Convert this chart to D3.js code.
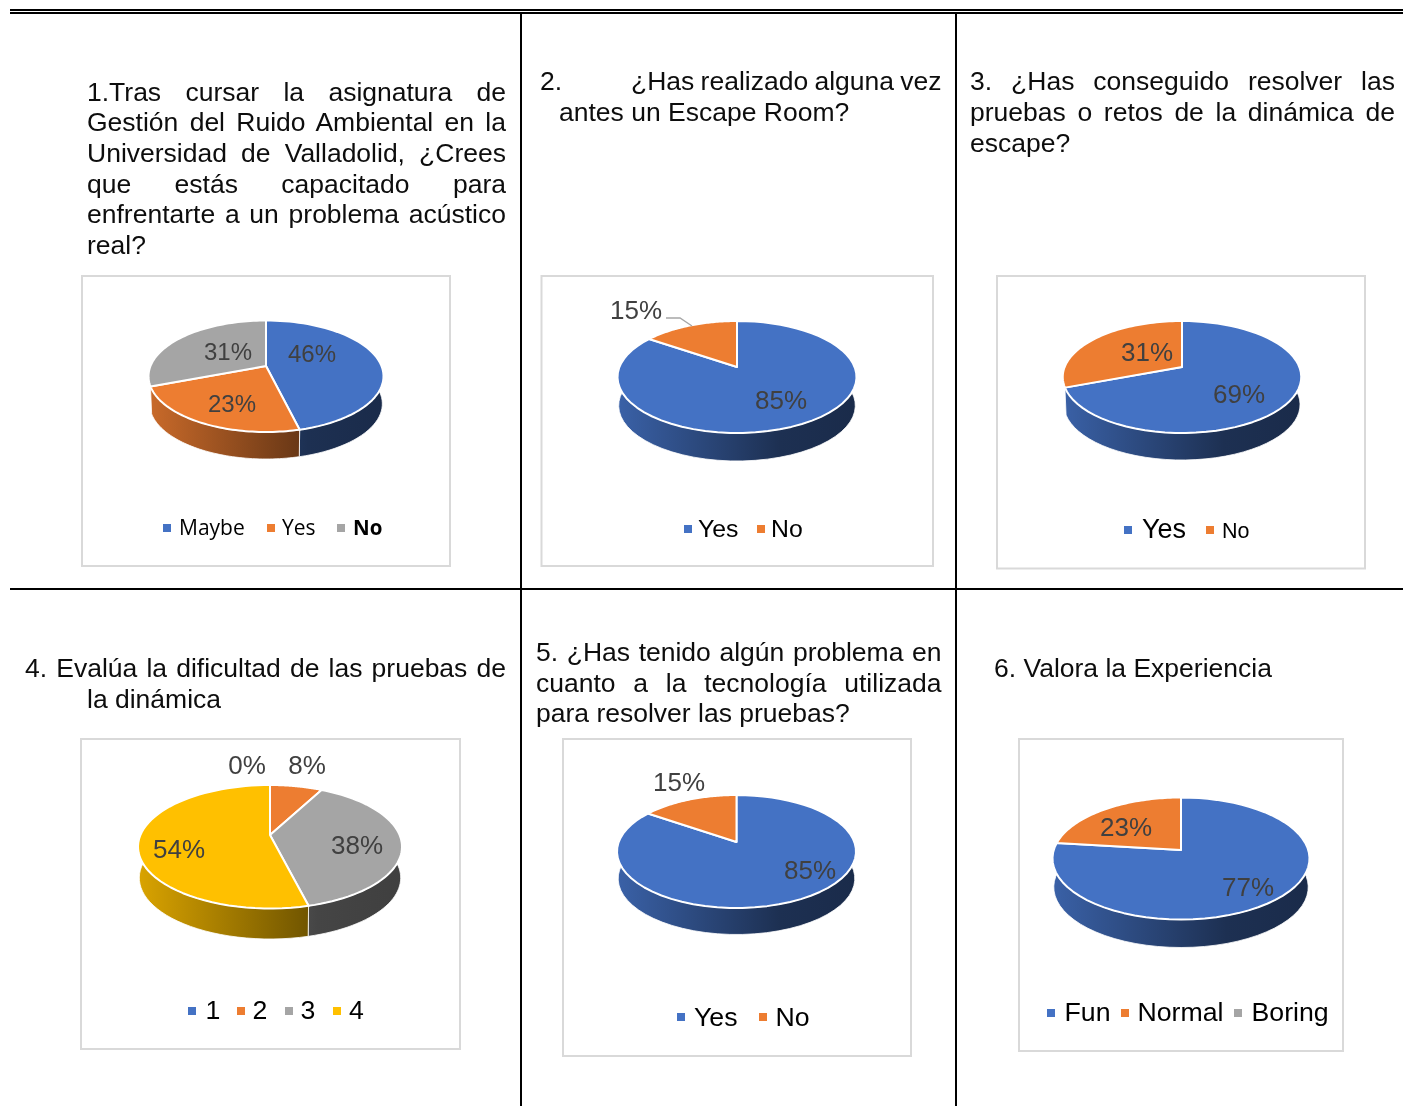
<!DOCTYPE html>
<html>
<head>
<meta charset="utf-8">
<script src="https://d3js.org/d3.v7.min.js"></script>
<style>
    html, body { margin: 0; padding: 0; background: #fff; }
    svg { display: block; filter: blur(0.35px); }
    text { font-family: "Liberation Sans", Arial, sans-serif; }
</style>
</head>
<body>
<svg id="page" width="1403" height="1106"></svg>
<script>
// Values (percentages, the labels round them)
const q1Categories = ['Maybe', 'Yes', 'No'];
const q1Values = [46.2, 23.1, 30.8];
const q2Categories = ['Yes', 'No'];
const q2Values = [84.6, 15.4];
const q3Categories = ['Yes', 'No'];
const q3Values = [69.2, 30.8];
const q4Categories = ['1', '2', '3', '4'];
const q4Values = [0, 7.7, 38.4, 53.9];
const q5Categories = ['Yes', 'No'];
const q5Values = [84.6, 15.4];
const q6Categories = ['Fun', 'Normal', 'Boring'];
const q6Values = [76.9, 23.1, 0];

const sliceColors = ['#4472c4', '#ed7d31', '#a5a5a5', '#ffc000'];

// Question texts. w = justified width of the line
const questionLines = [
    { text: '1.Tras cursar la asignatura de', x: 87, y: 101, w: 419 },
    { text: 'Gestión del Ruido Ambiental en la', x: 87, y: 131, w: 419 },
    { text: 'Universidad de Valladolid, ¿Crees', x: 87, y: 162, w: 419 },
    { text: 'que estás capacitado para', x: 87, y: 193, w: 419 },
    { text: 'enfrentarte a un problema acústico', x: 87, y: 223, w: 419 },
    { text: 'real?', x: 87, y: 254 },
    { text: '2.', x: 540, y: 90 },
    { text: '¿Has realizado alguna vez', x: 631, y: 90, w: 310.5 },
    { text: 'antes un Escape Room?', x: 559, y: 121 },
    { text: '3. ¿Has conseguido resolver las', x: 970, y: 90, w: 425 },
    { text: 'pruebas o retos de la dinámica de', x: 970, y: 121, w: 425 },
    { text: 'escape?', x: 970, y: 152 },
    { text: '4. Evalúa la dificultad de las pruebas de', x: 25, y: 677, w: 481 },
    { text: 'la dinámica', x: 87, y: 708 },
    { text: '5. ¿Has tenido algún problema en', x: 536, y: 661, w: 405.5 },
    { text: 'cuanto a la tecnología utilizada', x: 536, y: 692, w: 405.5 },
    { text: 'para resolver las pruebas?', x: 536, y: 722 },
    { text: '6. Valora la Experiencia', x: 994, y: 677 }
];

// frame: chart box, disc: apex + extremes of the top face, wallBottom: lowest point of the side
const charts = [
    {
        categories: q1Categories, values: q1Values, labelSize: 24,
        frame: [82, 276, 450, 566],
        disc: { ax: 266, ay: 366, top: 320.5, bottom: 432, left: 149, right: 383, wallBottom: 459 },
        labels: [[312, 353], [232, 403], [228, 351]],
        legend: {
            y: 528, base: 535,
            markers: [163, 267, 337], texts: [179, 282, 353],
            fonts: ['21px "Open Sans"', '21px "Open Sans"', 'bold 20.5px "Open Sans"']
        }
    },
    {
        categories: q2Categories, values: q2Values, labelSize: 26,
        frame: [541.5, 276, 933, 566],
        disc: { ax: 737, ay: 367, top: 321, bottom: 433, left: 618, right: 856, wallBottom: 461 },
        labels: [[781, 400], [636, 310]],
        leader: [[666, 318], [680, 318], [692, 326]],
        legend: {
            y: 529, base: 537,
            markers: [684, 757], texts: [698, 771],
            fonts: ['24.8px "Liberation Sans"', '24.8px "Liberation Sans"']
        }
    },
    {
        categories: q3Categories, values: q3Values, labelSize: 26,
        frame: [997, 276, 1365, 568.5],
        disc: { ax: 1182, ay: 367, top: 321, bottom: 433, left: 1062.5, right: 1300, wallBottom: 460 },
        labels: [[1239, 394], [1147, 352]],
        legend: {
            y: 530, base: 538,
            markers: [1124, 1206], texts: [1142, 1222],
            fonts: ['27px "Liberation Sans"', '21.5px "Liberation Sans"']
        }
    },
    {
        categories: q4Categories, values: q4Values, labelSize: 26,
        frame: [81, 739, 460, 1049],
        disc: { ax: 270, ay: 835, top: 785, bottom: 908.5, left: 139, right: 402, wallBottom: 939 },
        labels: [[247, 765], [307, 765], [357, 845], [179, 849]],
        legend: {
            y: 1011, base: 1019,
            markers: [188, 237, 285, 333], texts: [205.5, 252.5, 300.5, 349],
            fonts: ['26.7px "Liberation Sans"', '26.7px "Liberation Sans"', '26.7px "Liberation Sans"', '26.7px "Liberation Sans"']
        }
    },
    {
        categories: q5Categories, values: q5Values, labelSize: 26,
        frame: [563, 739, 911, 1056],
        disc: { ax: 736.5, ay: 842, top: 795, bottom: 908, left: 617.5, right: 855.5, wallBottom: 934.5 },
        labels: [[810, 870], [679, 782]],
        legend: {
            y: 1017, base: 1026,
            markers: [677, 759], texts: [694, 775.5],
            fonts: ['26.7px "Liberation Sans"', '26.7px "Liberation Sans"']
        }
    },
    {
        categories: q6Categories, values: q6Values, labelSize: 26,
        frame: [1019, 739, 1343, 1051],
        disc: { ax: 1181, ay: 850, top: 797.5, bottom: 919.5, left: 1052.5, right: 1308.5, wallBottom: 947.5 },
        labels: [[1248, 887], [1126, 827], null],
        legend: {
            y: 1013, base: 1021,
            markers: [1047, 1121, 1234], texts: [1064.5, 1137.5, 1251.5],
            fonts: ['26.7px "Liberation Sans"', '26.7px "Liberation Sans"', '26.7px "Liberation Sans"']
        }
    }
];

const svg = d3.select('#page');
const defs = svg.append('defs');
const pie = d3.pie().sort(null);
const rimLine = d3.line();
const pct = d3.format('.0f');

// table rules
const rules = [
    [10, 10, 1403, 10], [10, 13, 1403, 13], [10, 589, 1403, 589],
    [521, 13, 521, 1106], [956, 13, 956, 1106]
];
svg.append('g').selectAll('line')
    .data(rules)
    .join('line')
    .attr('x1', d => d[0]).attr('y1', d => d[1])
    .attr('x2', d => d[2]).attr('y2', d => d[3])
    .attr('stroke', '#000')
    .attr('stroke-width', 2);

// question texts, justified through word-spacing
svg.append('g').selectAll('text')
    .data(questionLines)
    .join('text')
    .attr('x', d => d.x)
    .attr('y', d => d.y)
    .attr('font-size', 26.5)
    .attr('fill', '#0d0d0d')
    .text(d => d.text)
    .each(function(d) {
        if (!d.w) return;
        const spaces = d.text.split(' ').length - 1;
        const extra = (d.w - this.getComputedTextLength()) / spaces;
        d3.select(this).attr('word-spacing', extra);
    });

function shade(color, f) {
    const c = d3.rgb(color);
    return d3.rgb(c.r * f, c.g * f, c.b * f).formatHex();
}

charts.forEach((chart, ci) => drawChart(chart, ci));

function drawChart(chart, ci) {
    const g = svg.append('g');
    const [x0, y0, x1, y1] = chart.frame;

    g.append('rect')
        .attr('x', x0).attr('y', y0)
        .attr('width', x1 - x0).attr('height', y1 - y0)
        .attr('fill', '#fff')
        .attr('stroke', '#d9d9d9')
        .attr('stroke-width', 2);

    // the disc is seen in perspective: apex sits above the centre of the ellipse
    const d = chart.disc;
    const up = d.ay - d.top;
    const down = d.bottom - d.ay;
    const k = (down - up) / (down + up);
    const ry = up * (1 + k);
    const rx = ((d.right - d.left) / 2 + 0.5) * Math.sqrt(1 - k * k);

    const project = (a) => {
        const s = 1 + k * Math.cos(a);
        return [rx * Math.sin(a) / s, -ry * Math.cos(a) / s];
    };
    const shrink = 0.99;
    const depth = d.wallBottom - (d.ay + down * shrink);
    const topPoint = a => {
        const p = project(a);
        return [d.ax + p[0], d.ay + p[1]];
    };
    const bottomPoint = a => {
        const p = project(a);
        return [d.ax + p[0] * shrink, d.ay + p[1] * shrink + depth];
    };
    const rim = (slice, fn) => d3.range(0, 61)
        .map(i => fn(slice.startAngle + (slice.endAngle - slice.startAngle) * i / 60));

    const slices = pie(chart.values).map((s, i) => ({ ...s, i }));
    const visible = slices.filter(s => s.value > 0);
    // only slices that reach the near side show a wall
    const walled = visible.filter(s => s.endAngle > Math.PI / 2 && s.startAngle < Math.PI * 4 / 3);

    // side wall gradients
    walled.forEach(s => {
        const grad = defs.append('linearGradient')
            .attr('id', `wall-${ci}-${s.i}`)
            .attr('gradientUnits', 'userSpaceOnUse')
            .attr('x1', d.left).attr('x2', d.right)
            .attr('y1', 0).attr('y2', 0);
        const color = sliceColors[s.i];
        [[0, 0.85], [0.68, 0.42], [1, 0.38]].forEach(st => {
            grad.append('stop')
                .attr('offset', st[0])
                .attr('stop-color', shade(color, st[1]));
        });
    });

    g.append('g').selectAll('path')
        .data(walled)
        .join('path')
        .attr('d', s => rimLine(rim(s, topPoint).concat(rim(s, bottomPoint).reverse())) + 'Z')
        .attr('fill', s => `url(#wall-${ci}-${s.i})`)
        .attr('stroke', '#fff')
        .attr('stroke-width', 0.8);

    g.append('g').selectAll('path')
        .data(visible)
        .join('path')
        .attr('d', s => rimLine([[d.ax, d.ay]].concat(rim(s, topPoint))) + 'Z')
        .attr('fill', s => sliceColors[s.i])
        .attr('stroke', '#fff')
        .attr('stroke-width', 2)
        .attr('stroke-linejoin', 'round');

    if (chart.leader) {
        g.append('path')
            .attr('d', rimLine(chart.leader))
            .attr('fill', 'none')
            .attr('stroke', '#a6a6a6')
            .attr('stroke-width', 1.3);
    }

    // data labels
    g.append('g').selectAll('text')
        .data(slices.filter(s => chart.labels[s.i]))
        .join('text')
        .attr('x', s => chart.labels[s.i][0])
        .attr('y', s => chart.labels[s.i][1] + 9)
        .attr('text-anchor', 'middle')
        .attr('font-size', chart.labelSize)
        .attr('fill', '#404040')
        .text(s => `${pct(s.value)}%`);

    // legend
    const leg = chart.legend;
    const items = g.append('g').selectAll('g')
        .data(chart.categories)
        .join('g');
    items.append('rect')
        .attr('x', (c, i) => leg.markers[i])
        .attr('y', leg.y - 4)
        .attr('width', 8)
        .attr('height', 8)
        .attr('fill', (c, i) => sliceColors[i]);
    items.append('text')
        .attr('x', (c, i) => leg.texts[i])
        .attr('y', leg.base)
        .style('font', (c, i) => leg.fonts[i])
        .attr('fill', '#000')
        .text(c => c);
}
</script>
</body>
</html>
